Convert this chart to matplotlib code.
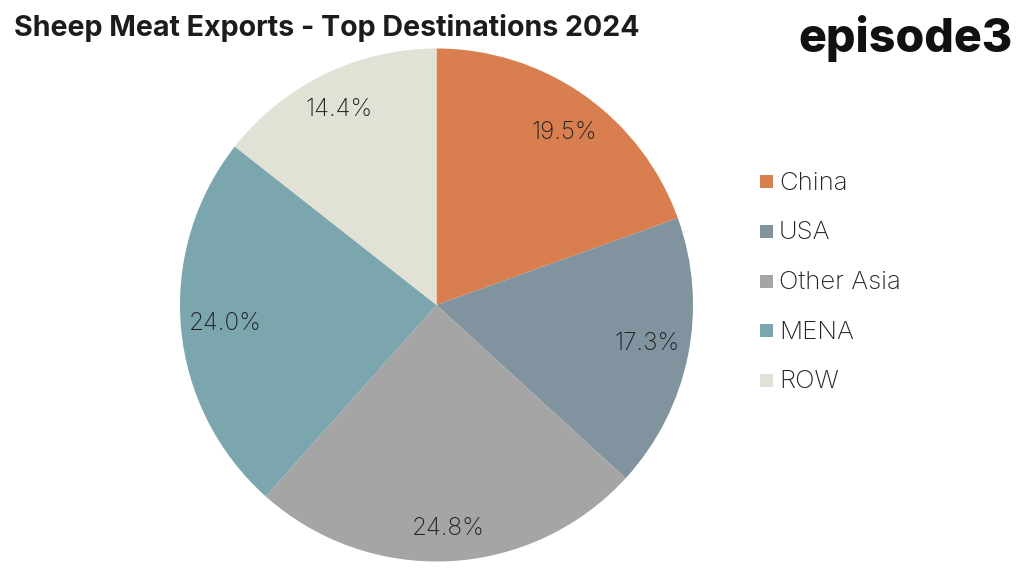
import matplotlib
matplotlib.use("Agg")
import matplotlib.pyplot as plt
from matplotlib.patches import Rectangle

categories = ["China", "USA", "Other Asia", "MENA", "ROW"]
shares = [19.5, 17.3, 24.8, 24.0, 14.4]
colors = ["#D97F4F", "#80939F", "#A5A5A5", "#7BA6AD", "#E2E1D6"]

W, H = 1024, 568
plt.rcParams['font.family'] = ['Inter', 'DejaVu Sans']

fig = plt.figure(figsize=(W / 100, H / 100), dpi=100)

# pie centre 436,305 radius 257 in pixels
cx, cy, r = 436.5, 305, 256.5
ax = fig.add_axes([(cx - r) / W, 1 - (cy + r) / H, 2 * r / W, 2 * r / H])
wedges, texts, autotexts = ax.pie(
    shares,
    colors=colors,
    startangle=90,
    counterclock=False,
    radius=1,
    autopct="%.1f%%",
    pctdistance=0.84,
    textprops={"fontsize": 17.5, "color": "#222222", "fontweight": "light"},
)
ax.set_xlim(-1, 1)
ax.set_ylim(-1, 1)

# nudge the percent labels, pixels
nudges = [(4, 4), (-1, -4), (1, 8), (3, 0), (-3, -2)]
for t, (dx, dy) in zip(autotexts, nudges):
    x, y = t.get_position()
    t.set_position((x + dx / r, y - dy / r))

fig.text(14 / W, 1 - 28 / H, "Sheep Meat Exports - Top Destinations 2024",
         fontsize=20.6, fontweight="bold", color="#1c1c1c", va="center", ha="left")
fig.text(1013 / W, 1 - 38 / H, "episode3", fontsize=33.5, fontweight="heavy",
         color="#111111", va="center", ha="right")

# legend by hand, the row gap is wider than a normal legend gives
for i, name in enumerate(categories):
    y = 181 + i * 49.75
    fig.patches.append(Rectangle((760 / W, 1 - (y + 7) / H), 13 / W, 13 / H,
                                 transform=fig.transFigure, facecolor=colors[i],
                                 edgecolor="none"))
    fig.text(779 / W, 1 - (y + 2) / H, name, fontsize=18.5, fontweight="light",
             color="#222222", va="center", ha="left")

fig.savefig("out.png", dpi=100, facecolor="white")
